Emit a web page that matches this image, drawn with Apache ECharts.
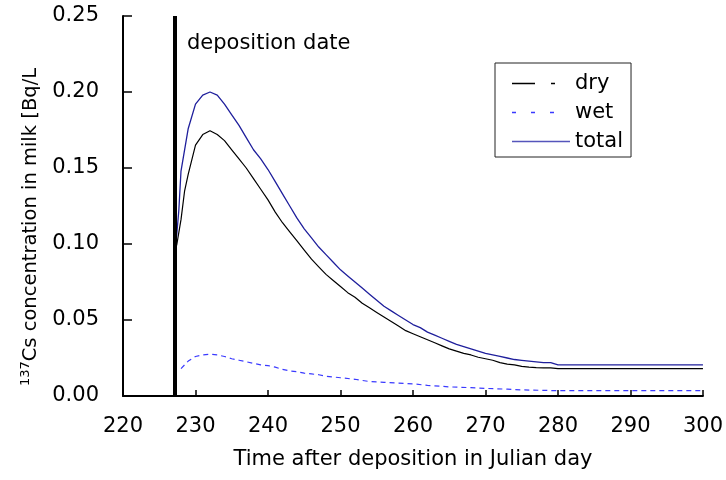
<!DOCTYPE html>
<html>
<head>
<meta charset="utf-8">
<script src="https://cdn.jsdelivr.net/npm/echarts@6/dist/echarts.min.js"></script>
<style>
html,body{margin:0;padding:0;background:#fff;}
#chart{width:726px;height:480px;}
</style>
</head>
<body>
<div id="chart"></div>
<script>
// ---- data ----
const xTicks = [220, 230, 240, 250, 260, 270, 280, 290, 300];
const yTicks = [0.00, 0.05, 0.10, 0.15, 0.20, 0.25];
const depositionDay = 227.2;

const dryDays = [227.4, 228, 228.5, 229, 230, 231, 232, 233, 234, 235, 236, 237, 238, 239, 240, 241, 242, 243, 244, 245, 246, 247, 248, 249, 250, 251, 252, 253, 254, 255, 256, 257, 258, 259, 260, 261, 262, 263, 264, 265, 266, 267, 268, 269, 270, 271, 272, 273, 274, 275, 276, 277, 278, 279, 280, 300];
const dryValues = [0.099, 0.116, 0.135, 0.146, 0.165, 0.172, 0.1745, 0.172, 0.168, 0.162, 0.156, 0.150, 0.143, 0.136, 0.129, 0.121, 0.114, 0.108, 0.102, 0.096, 0.090, 0.085, 0.080, 0.076, 0.072, 0.068, 0.065, 0.061, 0.058, 0.055, 0.052, 0.049, 0.046, 0.043, 0.041, 0.039, 0.037, 0.035, 0.033, 0.031, 0.0295, 0.028, 0.027, 0.0255, 0.0245, 0.0235, 0.022, 0.021, 0.0205, 0.0195, 0.019, 0.0187, 0.0185, 0.0185, 0.018, 0.018];

const wetDays = [228, 229, 230, 231, 232, 233, 234, 235, 236, 237, 238, 239, 240, 241, 242, 243, 244, 245, 246, 247, 248, 249, 250, 252, 254, 256, 258, 260, 262, 265, 268, 270, 273, 275, 280, 300];
const wetValues = [0.018, 0.023, 0.026, 0.027, 0.0275, 0.027, 0.026, 0.0245, 0.0235, 0.0225, 0.0215, 0.0205, 0.020, 0.019, 0.0175, 0.0165, 0.016, 0.015, 0.0145, 0.014, 0.013, 0.0125, 0.012, 0.011, 0.0095, 0.009, 0.0085, 0.008, 0.007, 0.006, 0.0055, 0.005, 0.0045, 0.004, 0.0035, 0.0035];

const totalDays = [227.3, 227.7, 228, 229, 230, 231, 232, 233, 234, 235, 236, 237, 238, 239, 240, 241, 242, 243, 244, 245, 246, 247, 248, 249, 250, 251, 252, 253, 254, 255, 256, 257, 258, 259, 260, 261, 262, 263, 264, 265, 266, 267, 268, 269, 270, 271, 272, 273, 274, 275, 276, 277, 278, 279, 280, 300];
const totalValues = [0.100, 0.122, 0.148, 0.176, 0.192, 0.198, 0.200, 0.198, 0.192, 0.185, 0.178, 0.170, 0.162, 0.156, 0.149, 0.141, 0.133, 0.125, 0.117, 0.110, 0.104, 0.098, 0.093, 0.088, 0.083, 0.079, 0.075, 0.071, 0.067, 0.063, 0.059, 0.056, 0.053, 0.050, 0.047, 0.045, 0.042, 0.040, 0.038, 0.036, 0.034, 0.0325, 0.031, 0.0295, 0.028, 0.027, 0.026, 0.025, 0.024, 0.0235, 0.023, 0.0225, 0.022, 0.022, 0.0205, 0.0205];

const seriesNames = ['dry', 'wet', 'total'];

// ---- build ----
const FONT = 'DejaVu Sans';
const zip = (xs, ys) => xs.map((x, i) => [x, ys[i]]);
const BLACK = '#000';
const NAVY = '#1f1f9c';
const BLUE = '#3a3aff';

const chart = echarts.init(document.getElementById('chart'), null, {renderer: 'canvas'});
chart.setOption({
  animation: false,
  backgroundColor: '#fff',
  grid: {left: 123, right: 23, top: 16, bottom: 84, containLabel: false},
  xAxis: {
    type: 'value',
    position: 'bottom',
    min: xTicks[0], max: xTicks[xTicks.length - 1], interval: 10,
    name: 'Time after deposition in Julian day',
    nameLocation: 'middle', nameGap: 53,
    nameTextStyle: {fontFamily: FONT, fontSize: 21, color: BLACK},
    axisLine: {show: true, lineStyle: {color: BLACK, width: 2}},
    axisTick: {show: true, inside: true, length: 6, lineStyle: {color: BLACK, width: 1.5}},
    axisLabel: {show: true, inside: false, fontFamily: FONT, fontSize: 21, color: BLACK, margin: 20, showMinLabel: true, showMaxLabel: true},
    splitLine: {show: false}
  },
  yAxis: {
    type: 'value',
    position: 'left',
    min: yTicks[0], max: yTicks[yTicks.length - 1], interval: 0.05,
    name: '{sup|137}{n|Cs concentration in milk [Bq/L}',
    nameLocation: 'middle', nameGap: 80,
    nameTextStyle: {
      fontFamily: FONT, fontSize: 19.5, color: BLACK, padding: [0, 42, 0, 0],
      rich: {
        sup: {fontFamily: FONT, fontSize: 13, color: BLACK, verticalAlign: 'top', lineHeight: 24},
        n: {fontFamily: FONT, fontSize: 19.5, color: BLACK, lineHeight: 24}
      }
    },
    axisLine: {show: true, lineStyle: {color: BLACK, width: 2}},
    axisTick: {show: true, inside: true, length: 9, lineStyle: {color: BLACK, width: 1.5}},
    axisLabel: {fontFamily: FONT, fontSize: 21, color: BLACK, margin: 24, formatter: v => v.toFixed(2)},
    splitLine: {show: false}
  },
  legend: {
    orient: 'vertical',
    left: 495, top: 63,
    padding: [10, 8, 5, 17],
    borderColor: '#222', borderWidth: 1,
    backgroundColor: '#fff',
    itemWidth: 58, itemHeight: 1.5,
    itemGap: 8,
    selectedMode: false,
    itemStyle: {borderWidth: 0},
    textStyle: {fontFamily: FONT, fontSize: 21, color: BLACK, lineHeight: 21},
    data: [
      {name: seriesNames[0], icon: 'path://M0,0H23V1.5H0Z M39,0H43V1.5H39Z M58,0L58,1.5', itemStyle: {color: BLACK}},
      {name: seriesNames[1], icon: 'path://M0,0H4V1.5H0Z M19,0H23V1.5H19Z M38,0H42V1.5H38Z M58,0L58,1.5', itemStyle: {color: BLUE}},
      {name: seriesNames[2], icon: 'path://M0,0H58V1.5H0Z', itemStyle: {color: '#5555bb'}}
    ]
  },
  graphic: [
    {type: 'text', left: 187, top: 33, z: 10,
     style: {text: 'deposition date', fontFamily: FONT, fontSize: 21, fill: BLACK}}
  ],
  series: [
    {
      name: seriesNames[0], type: 'line', data: zip(dryDays, dryValues),
      showSymbol: false, symbol: 'none', smooth: false,
      lineStyle: {color: BLACK, width: 1.2},
      itemStyle: {color: BLACK},
      z: 3,
      markLine: {
        silent: true, symbol: 'none', animation: false,
        label: {show: false},
        lineStyle: {color: BLACK, width: 4, type: 'solid'},
        data: [{xAxis: depositionDay}]
      }
    },
    {
      name: seriesNames[1], type: 'line', data: zip(wetDays, wetValues),
      showSymbol: false, symbol: 'none', smooth: false,
      lineStyle: {color: BLUE, width: 1.2, type: [5, 4]},
      itemStyle: {color: BLUE},
      z: 3
    },
    {
      name: seriesNames[2], type: 'line', data: zip(totalDays, totalValues),
      showSymbol: false, symbol: 'none', smooth: false,
      lineStyle: {color: NAVY, width: 1.3},
      itemStyle: {color: NAVY},
      z: 3
    }
  ]
});
</script>
</body>
</html>
